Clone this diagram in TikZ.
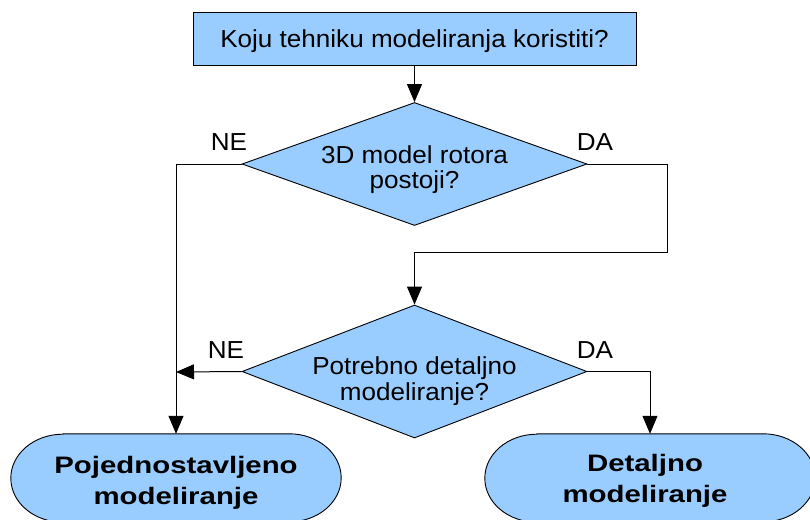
\documentclass[tikz,border=0pt]{standalone}
\usepackage{fontspec}
\setmainfont{Liberation Sans}[FakeStretch=1.06]
\newfontfamily\termfont{Liberation Sans}[FakeStretch=1.235]
\usetikzlibrary{shapes.geometric,arrows.meta}
\definecolor{boxblue}{RGB}{153,204,255}
\begin{document}
\begin{tikzpicture}[x=1pt,y=-1pt,
  txt/.style={font=\fontsize{24.6}{25.5}\selectfont, align=center, inner sep=0pt},
  procbox/.style={draw=black, line width=1pt, fill=boxblue, minimum width=443pt,
    minimum height=52pt, inner sep=0pt, text depth=0pt, font=\fontsize{24.6}{25.5}\selectfont},
  decision/.style={diamond, draw=black, line width=0.9pt, fill=boxblue,
    minimum width=345pt, minimum height=123pt, inner sep=0pt},
  conn/.style={draw=black, line width=1pt, -{Triangle[length=18pt,width=15pt]}},
  yesno/.style={txt, text depth=0pt},
  termbox/.style={minimum width=330pt, minimum height=88pt, inner sep=0pt},
  termfill/.style={fill=boxblue, draw=black, line width=0.9pt},
  termtxt/.style={font=\termfont\bfseries\fontsize{23.8}{31.5}\selectfont, align=center, inner sep=0pt}
]
\useasboundingbox (0,0) rectangle (810,519);

% process box
\node[procbox] (q) at (414.5,39) {Koju tehniku modeliranja koristiti?};

% decisions
\node[decision] (d1) at (414.5,164) {};
\node[txt] (d1t) at (414.5,169.5) {3D model rotora\\postoji?};
\node[decision, minimum height=133pt] (d2) at (414.5,371.5) {};
\node[txt] (d2t) at (414.5,381) {Potrebno detaljno\\modeliranje?};

% terminals
\node[termbox] (t1) at (176,478) {};
\path[termfill] ([xshift=52pt]t1.north west) -- ([xshift=-52pt]t1.north east)
  arc[start angle=90, end angle=-90, x radius=52pt, y radius=44pt]
  -- ([xshift=52pt]t1.south west)
  arc[start angle=270, end angle=90, x radius=52pt, y radius=44pt] -- cycle;
\node[termtxt] (t1t) at (176,483) {Pojednostavljeno\\modeliranje};

\node[termbox] (t2) at (650,478) {};
\path[termfill] ([xshift=52pt]t2.north west) -- ([xshift=-52pt]t2.north east)
  arc[start angle=90, end angle=-90, x radius=52pt, y radius=44pt]
  -- ([xshift=52pt]t2.south west)
  arc[start angle=270, end angle=90, x radius=52pt, y radius=44pt] -- cycle;
\node[termtxt] (t2t) at (645,481) {Detaljno\\modeliranje};

% helper points
\coordinate (k1) at (667,252);
\coordinate (j1) at (176,372);

% connectors
\draw[conn] (q.south) -- (d1.north);
\draw[conn] (d1.west) -| (t1.north);
\draw[conn] (d1.east) -| (k1) -| (d2.north);
\draw[conn] (d2.west) -- (j1);
\draw[conn] (d2.east) -| (t2.north);

% labels
\node[yesno] (ne1) at (229,142.5) {NE};
\node[yesno] (da1) at (595,142.5) {DA};
\node[yesno] (ne2) at (226,350.5) {NE};
\node[yesno] (da2) at (595,350.5) {DA};
\end{tikzpicture}
\end{document}
